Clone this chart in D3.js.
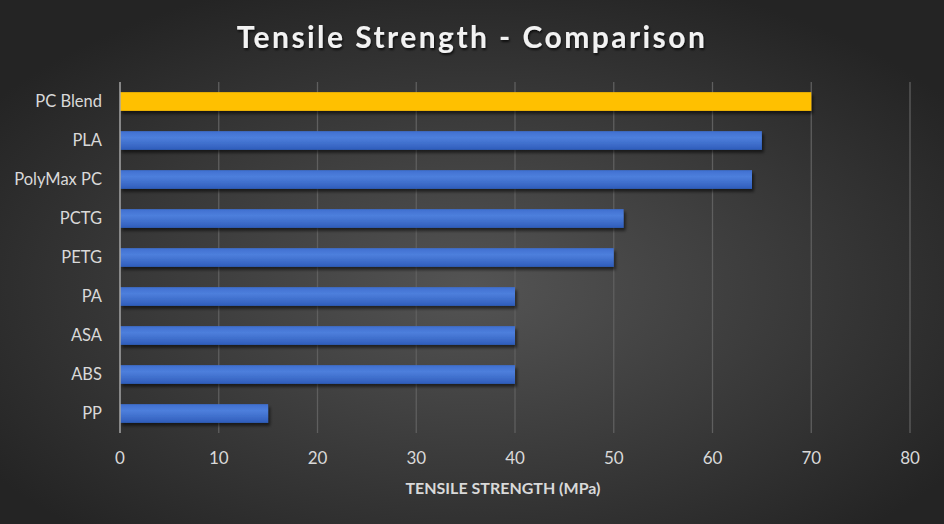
<!DOCTYPE html>
<html>
<head>
<meta charset="utf-8">
<script src="https://cdn.jsdelivr.net/npm/d3@7"></script>
<style>
  body { margin: 0; background: #2b2b2b; }
  svg { display: block; }
</style>
</head>
<body>
<div id="chart"></div>
<script>
// chart data, top to bottom
const materials = ["PC Blend", "PLA", "PolyMax PC", "PCTG", "PETG", "PA", "ASA", "ABS", "PP"];
const strength = [70, 65, 64, 51, 50, 40, 40, 40, 15];
const highlight = ["PC Blend"];
const xTicks = [0, 10, 20, 30, 40, 50, 60, 70, 80];

const width = 944, height = 524;
const margin = {top: 82, right: 34, bottom: 91, left: 120};

const svg = d3.select("#chart").append("svg")
    .attr("width", width)
    .attr("height", height)
    .style("font-family", "Lato, 'Open Sans', 'Liberation Sans', sans-serif");

const defs = svg.append("defs");

const bg = defs.append("radialGradient")
    .attr("id", "bg")
    .attr("cx", "50%").attr("cy", "55%").attr("r", "62%");
bg.append("stop").attr("offset", "0%").attr("stop-color", "#545454");
bg.append("stop").attr("offset", "100%").attr("stop-color", "#242424");

const blue = defs.append("linearGradient")
    .attr("id", "blue")
    .attr("x1", 0).attr("y1", 0).attr("x2", 0).attr("y2", 1);
blue.append("stop").attr("offset", "0%").attr("stop-color", "#3f6fd0");
blue.append("stop").attr("offset", "35%").attr("stop-color", "#4d7fdc");
blue.append("stop").attr("offset", "100%").attr("stop-color", "#2f5dbb");

const shadow = defs.append("filter").attr("id", "shadow")
    .attr("x", "-5%").attr("y", "-30%").attr("width", "115%").attr("height", "190%");
shadow.append("feDropShadow")
    .attr("dx", 2).attr("dy", 3).attr("stdDeviation", 1.5)
    .attr("flood-color", "#000").attr("flood-opacity", 0.55);

const tshadow = defs.append("filter").attr("id", "tshadow");
tshadow.append("feDropShadow")
    .attr("dx", 1).attr("dy", 2).attr("stdDeviation", 1.2)
    .attr("flood-color", "#000").attr("flood-opacity", 0.7);

svg.append("rect")
    .attr("width", width).attr("height", height)
    .attr("fill", "url(#bg)");

const x = d3.scaleLinear()
    .domain([0, 80])
    .range([margin.left, width - margin.right]);

const y = d3.scaleBand()
    .domain(materials)
    .range([margin.top, height - margin.bottom])
    .paddingInner(0.52)
    .paddingOuter(0.26);

// gridlines
svg.append("g")
  .selectAll("line")
  .data(xTicks.slice(1))
  .join("line")
    .attr("x1", d => x(d)).attr("x2", d => x(d))
    .attr("y1", margin.top).attr("y2", height - margin.bottom)
    .attr("stroke", "#5f5f5f")
    .attr("stroke-width", 1.3);

// bars
svg.append("g")
  .selectAll("rect")
  .data(materials)
  .join("rect")
    .attr("x", x(0))
    .attr("y", d => y(d))
    .attr("width", (d, i) => x(strength[i]) - x(0))
    .attr("height", y.bandwidth())
    .attr("fill", d => highlight.includes(d) ? "#ffc000" : "url(#blue)")
    .attr("filter", "url(#shadow)");

// y axis line
svg.append("line")
    .attr("x1", x(0)).attr("x2", x(0))
    .attr("y1", margin.top).attr("y2", height - margin.bottom)
    .attr("stroke", "#a6a6a6")
    .attr("stroke-width", 1.5);

// category labels
svg.append("g")
  .selectAll("text")
  .data(materials)
  .join("text")
    .attr("x", x(0) - 18)
    .attr("y", d => y(d) + y.bandwidth() / 2)
    .attr("dy", "0.35em")
    .attr("text-anchor", "end")
    .attr("fill", "#d9d9d9")
    .attr("font-size", 16.5)
    .text(d => d);

// x tick labels
svg.append("g")
  .selectAll("text")
  .data(xTicks)
  .join("text")
    .attr("x", d => x(d))
    .attr("y", 464)
    .attr("text-anchor", "middle")
    .attr("fill", "#d9d9d9")
    .attr("font-size", 17)
    .text(d => d);

// axis title
svg.append("text")
    .attr("x", 503)
    .attr("y", 494)
    .attr("text-anchor", "middle")
    .attr("fill", "#d9d9d9")
    .attr("font-size", 16)
    .attr("font-weight", "bold")
    .text("TENSILE STRENGTH (MPa)");

// title
svg.append("text")
    .attr("x", width / 2)
    .attr("y", 48)
    .attr("text-anchor", "middle")
    .attr("fill", "#f2f2f2")
    .attr("font-size", 30)
    .attr("font-weight", "bold")
    .attr("letter-spacing", 2.45)
    .attr("filter", "url(#tshadow)")
    .text("Tensile Strength - Comparison");
</script>
</body>
</html>
